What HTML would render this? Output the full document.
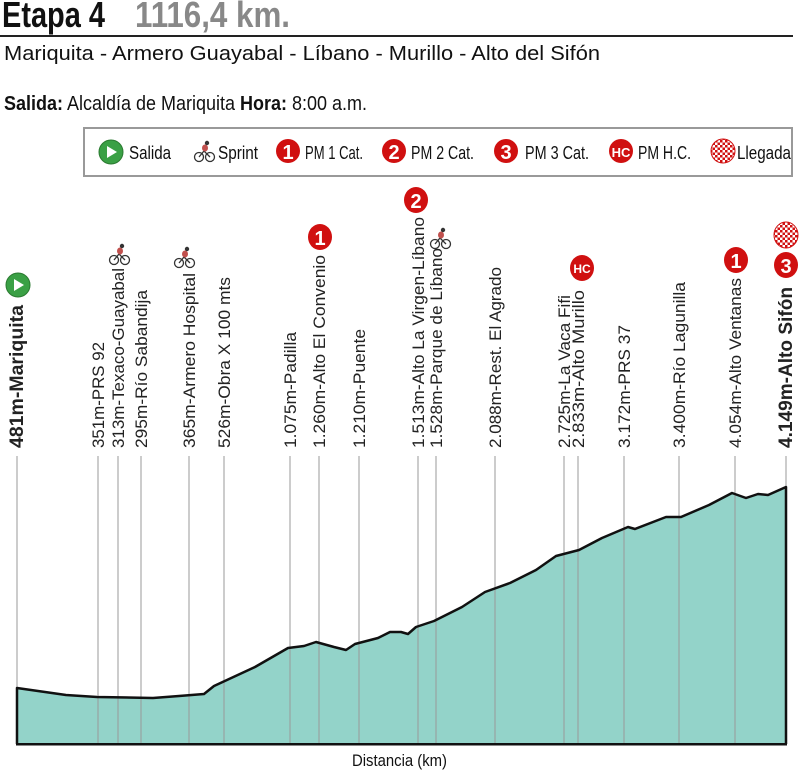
<!DOCTYPE html>
<html><head><meta charset="utf-8"><style>
html,body{margin:0;padding:0;background:#fff;}
svg{display:block;}
.n{font-family:"Liberation Sans",sans-serif;}
.s{font-family:"Liberation Sans",sans-serif;}
</style></head><body>
<svg width="800" height="771" viewBox="0 0 800 771" xmlns="http://www.w3.org/2000/svg">
<defs>
<pattern id="chk" width="5" height="5" patternUnits="userSpaceOnUse"><rect width="5" height="5" fill="#fff"/><rect width="2.5" height="2.5" fill="#d01010"/><rect x="2.5" y="2.5" width="2.5" height="2.5" fill="#d01010"/></pattern>
<g id="bike"><circle cx="-5" cy="5" r="4.5" fill="none" stroke="#333" stroke-width="1.3"/><circle cx="6" cy="5" r="4.5" fill="none" stroke="#333" stroke-width="1.3"/><path d="M-5 5 L0 -1 L6 5 M0 -1 L3 -5" stroke="#333" stroke-width="1.3" fill="none"/><ellipse cx="1" cy="-4" rx="3" ry="3.5" fill="#c0504d"/><circle cx="3" cy="-9" r="2.2" fill="#333"/></g>
</defs>
<!-- header -->
<text x="2" y="27" class="n" font-weight="bold" font-size="36" fill="#111" textLength="103" lengthAdjust="spacingAndGlyphs">Etapa 4</text>
<text x="135" y="27" class="n" font-weight="bold" font-size="36" fill="#888" textLength="155" lengthAdjust="spacingAndGlyphs">1116,4 km.</text>
<rect x="0" y="35" width="793" height="2" fill="#222"/>
<text x="4" y="60" class="s" font-size="20" fill="#111" textLength="596" lengthAdjust="spacingAndGlyphs">Mariquita - Armero Guayabal - Líbano - Murillo - Alto del Sifón</text>
<text x="4" y="110" class="n" font-size="20" fill="#111" textLength="363" lengthAdjust="spacingAndGlyphs"><tspan font-weight="bold">Salida:</tspan> Alcaldía de Mariquita  <tspan font-weight="bold">Hora:</tspan> 8:00 a.m.</text>
<!-- legend -->
<rect x="84" y="128" width="708" height="48" fill="#fff" stroke="#999" stroke-width="2"/>
<g class="n" font-size="18" fill="#111">
<circle cx="111" cy="152" r="12" fill="#3aa045" stroke="#2a7a30"/><path d="M107 146 L117 152 L107 158Z" fill="#fff"/>
<text x="129" y="159" textLength="42" lengthAdjust="spacingAndGlyphs">Salida</text>
<use href="#bike" x="204" y="152"/>
<text x="218" y="159" textLength="40" lengthAdjust="spacingAndGlyphs">Sprint</text>
<circle cx="288" cy="151" r="12" fill="#d01010"/><text x="288" y="159" text-anchor="middle" fill="#fff" font-weight="bold" font-size="20">1</text>
<text x="305" y="159" textLength="58" lengthAdjust="spacingAndGlyphs">PM 1 Cat.</text>
<circle cx="394" cy="151" r="12" fill="#d01010"/><text x="394" y="159" text-anchor="middle" fill="#fff" font-weight="bold" font-size="20">2</text>
<text x="411" y="159" textLength="63" lengthAdjust="spacingAndGlyphs">PM 2 Cat.</text>
<circle cx="506" cy="151" r="12" fill="#d01010"/><text x="506" y="159" text-anchor="middle" fill="#fff" font-weight="bold" font-size="20">3</text>
<text x="525" y="159" textLength="64" lengthAdjust="spacingAndGlyphs">PM 3 Cat.</text>
<circle cx="621" cy="151" r="12" fill="#d01010"/><text x="621" y="157" text-anchor="middle" fill="#fff" font-weight="bold" font-size="13">HC</text>
<text x="638" y="159" textLength="53" lengthAdjust="spacingAndGlyphs">PM H.C.</text>
<circle cx="723" cy="151" r="12" fill="url(#chk)" stroke="#d01010"/>
<text x="737" y="159" textLength="54" lengthAdjust="spacingAndGlyphs">Llegada</text>
</g>
<!-- profile -->
<polygon points="17,744 17,688 66,695 97,697 153,698 179,696 204,694 214,686 255,667 288,648 304,646 316,642 334,647 346,650 355,644 378,638 390,632 401,632 408,634 416,627 434,621 462,607 485,592 510,583 536,570 556,556 579,550 602,538 628,527 635,529 666,517 681,517 709,505 732,493 746,498 758,494 768,495 786,487 786,744" fill="#93d3c9"/>
<g stroke="#999" stroke-width="1">
<line x1="17" y1="456" x2="17" y2="744"/><line x1="98" y1="456" x2="98" y2="744"/><line x1="118" y1="456" x2="118" y2="744"/><line x1="141" y1="456" x2="141" y2="744"/><line x1="189" y1="456" x2="189" y2="744"/><line x1="224" y1="456" x2="224" y2="744"/><line x1="290" y1="456" x2="290" y2="744"/><line x1="319" y1="456" x2="319" y2="744"/><line x1="359" y1="456" x2="359" y2="744"/><line x1="418" y1="456" x2="418" y2="744"/><line x1="436" y1="456" x2="436" y2="744"/><line x1="495" y1="456" x2="495" y2="744"/><line x1="564" y1="456" x2="564" y2="744"/><line x1="578" y1="456" x2="578" y2="744"/><line x1="624" y1="456" x2="624" y2="744"/><line x1="679" y1="456" x2="679" y2="744"/><line x1="735" y1="456" x2="735" y2="744"/><line x1="786" y1="456" x2="786" y2="744"/>
</g>
<polyline points="17,744 17,688 66,695 97,697 153,698 179,696 204,694 214,686 255,667 288,648 304,646 316,642 334,647 346,650 355,644 378,638 390,632 401,632 408,634 416,627 434,621 462,607 485,592 510,583 536,570 556,556 579,550 602,538 628,527 635,529 666,517 681,517 709,505 732,493 746,498 758,494 768,495 786,487 786,744" fill="none" stroke="#111" stroke-width="2.5" stroke-linejoin="round"/>
<rect x="16" y="743" width="771" height="2.5" fill="#111"/>
<text x="352" y="766" class="n" font-size="17" fill="#111" textLength="95" lengthAdjust="spacingAndGlyphs">Distancia (km)</text>
<!-- labels -->
<g class="s" font-size="17" fill="#222">
<text transform="translate(23,448) rotate(-90)" font-weight="bold" font-size="19" textLength="143" lengthAdjust="spacingAndGlyphs">481m-Mariquita</text>
<text transform="translate(104,448) rotate(-90)" textLength="106" lengthAdjust="spacingAndGlyphs">351m-PRS 92</text>
<text transform="translate(124,448) rotate(-90)" textLength="180" lengthAdjust="spacingAndGlyphs">313m-Texaco-Guayabal</text>
<text transform="translate(147,448) rotate(-90)" textLength="158" lengthAdjust="spacingAndGlyphs">295m-Río Sabandija</text>
<text transform="translate(195,448) rotate(-90)" textLength="175" lengthAdjust="spacingAndGlyphs">365m-Armero Hospital</text>
<text transform="translate(230,448) rotate(-90)" textLength="171" lengthAdjust="spacingAndGlyphs">526m-Obra X 100 mts</text>
<text transform="translate(296,448) rotate(-90)" textLength="116" lengthAdjust="spacingAndGlyphs">1.075m-Padilla</text>
<text transform="translate(325,448) rotate(-90)" textLength="193" lengthAdjust="spacingAndGlyphs">1.260m-Alto El Convenio</text>
<text transform="translate(365,448) rotate(-90)" textLength="119" lengthAdjust="spacingAndGlyphs">1.210m-Puente</text>
<text transform="translate(424,448) rotate(-90)" textLength="231" lengthAdjust="spacingAndGlyphs">1.513m-Alto La Virgen-Líbano</text>
<text transform="translate(442,448) rotate(-90)" textLength="200" lengthAdjust="spacingAndGlyphs">1.528m-Parque de Líbano</text>
<text transform="translate(501,448) rotate(-90)" textLength="181" lengthAdjust="spacingAndGlyphs">2.088m-Rest. El Agrado</text>
<text transform="translate(570,448) rotate(-90)" textLength="153" lengthAdjust="spacingAndGlyphs">2.725m-La Vaca Fifi</text>
<text transform="translate(584,448) rotate(-90)" textLength="158" lengthAdjust="spacingAndGlyphs">2.833m-Alto Murillo</text>
<text transform="translate(630,448) rotate(-90)" textLength="123" lengthAdjust="spacingAndGlyphs">3.172m-PRS 37</text>
<text transform="translate(685,448) rotate(-90)" textLength="166" lengthAdjust="spacingAndGlyphs">3.400m-Río Lagunilla</text>
<text transform="translate(741,448) rotate(-90)" textLength="170" lengthAdjust="spacingAndGlyphs">4.054m-Alto Ventanas</text>
<text transform="translate(792,448) rotate(-90)" font-weight="bold" font-size="19" textLength="161" lengthAdjust="spacingAndGlyphs">4.149m-Alto Sifón</text>
</g>
<!-- icons -->
<circle cx="18" cy="285" r="12" fill="#3aa045" stroke="#2a7a30"/><path d="M14 279 L24 285 L14 291Z" fill="#fff"/>
<use href="#bike" x="119" y="255"/>
<use href="#bike" x="184" y="258"/>
<use href="#bike" x="440" y="239"/>
<g class="s" font-weight="bold" fill="#fff" text-anchor="middle">
<ellipse cx="320" cy="237" rx="12" ry="13" fill="#d01010"/><text x="320" y="245" font-size="20">1</text>
<ellipse cx="416" cy="200" rx="12" ry="13" fill="#d01010"/><text x="416" y="208" font-size="20">2</text>
<ellipse cx="582" cy="268" rx="12" ry="13" fill="#d01010"/><text x="582" y="273" font-size="12">HC</text>
<ellipse cx="736" cy="260" rx="12" ry="13" fill="#d01010"/><text x="736" y="268" font-size="20">1</text>
<ellipse cx="786" cy="235" rx="12" ry="13" fill="url(#chk)" stroke="#d01010"/>
<ellipse cx="786" cy="265" rx="12" ry="13" fill="#d01010"/><text x="786" y="273" font-size="20">3</text>
</g>
</svg>
</body></html>
